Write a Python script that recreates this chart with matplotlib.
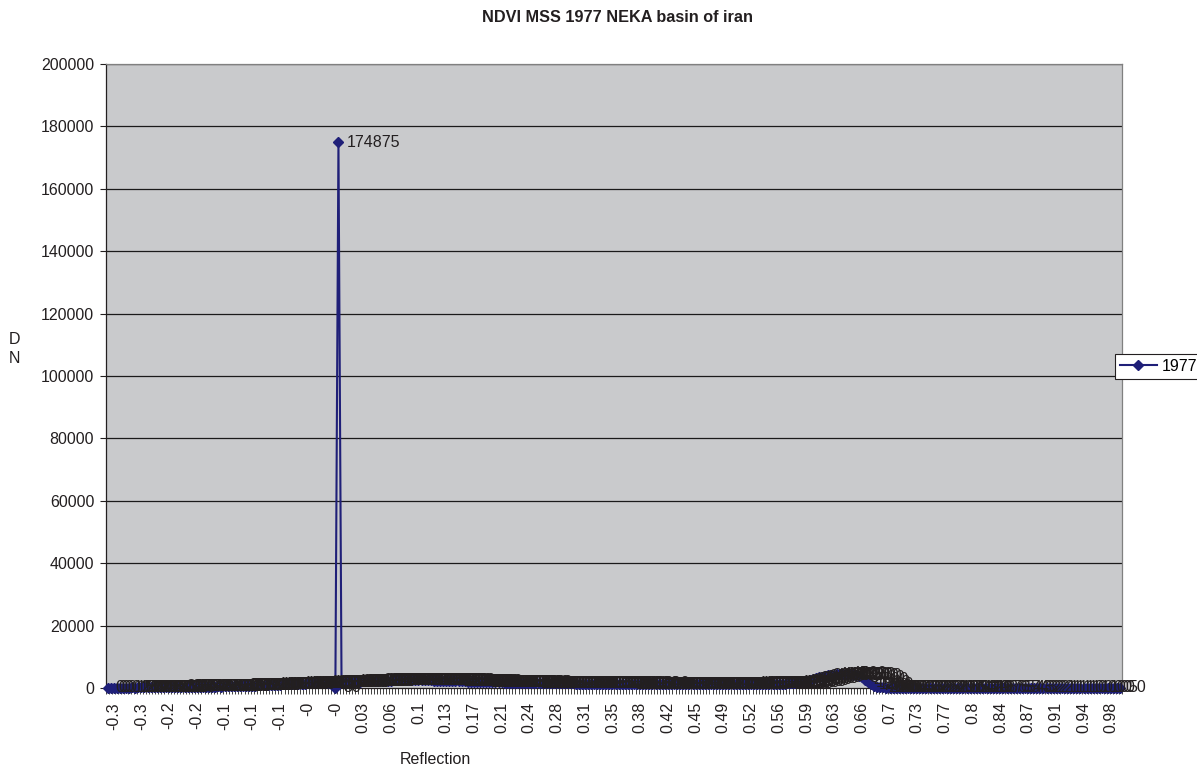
import matplotlib
matplotlib.use('Agg')
import matplotlib.pyplot as plt
from matplotlib.lines import Line2D

plt.rcParams['font.family'] = ['Liberation Sans', 'DejaVu Sans']

title = "NDVI MSS 1977 NEKA basin of iran"
series_name = "1977"
x_title = "Reflection"
y_title = "D\nN"

# DN count per NDVI category
values = [
    0, 0, 0, 0, 0, 0, 120, 150, 180, 160,
    200, 190, 220, 240, 210, 250, 260, 240, 280, 300,
    270, 310, 290, 330, 320, 350, 340, 370, 360, 390,
    410, 380, 420, 450, 430, 470, 500, 480, 530, 560,
    540, 600, 620, 650, 700, 680, 750, 800, 780, 850,
    900, 880, 950, 1000, 1050, 1020, 1100, 1150, 1200, 1180,
    1250, 1300, 1350, 1320, 1400, 1450, 1500, 1480, 1550, 1600,
    1650, 1620, 1700, 1750, 30, 174875, 1800, 1850, 1900, 1950,
    2000, 2050, 2020, 2100, 2150, 2200, 2180, 2250, 2300, 2280,
    2350, 2400, 2380, 2450, 2420, 2500, 2480, 2520, 2550, 2500,
    2530, 2480, 2510, 2450, 2470, 2420, 2400, 2380, 2350, 2320,
    2300, 2280, 2250, 2200, 2180, 2150, 2100, 2080, 2050, 2000,
    1980, 1950, 1920, 1900, 1880, 1850, 1820, 1800, 1780, 1760,
    1750, 1720, 1700, 1690, 1680, 1650, 1640, 1620, 1600, 1590,
    1580, 1560, 1550, 1540, 1520, 1510, 1500, 1490, 1480, 1470,
    1460, 1450, 1440, 1430, 1420, 1410, 1400, 1390, 1380, 1370,
    1360, 1350, 1340, 1330, 1320, 1310, 1300, 1290, 1310, 1280,
    1300, 1270, 1290, 1260, 1280, 1300, 1270, 1250, 1280, 1260,
    1240, 1270, 1250, 1230, 1260, 1240, 1220, 1250, 1230, 1210,
    1240, 1220, 1200, 1230, 1210, 1190, 1220, 1200, 1230, 1210,
    1240, 1220, 1250, 1230, 1260, 1240, 1270, 1250, 1280, 1300,
    1290, 1310, 1300, 1320, 1310, 1330, 1320, 1340, 1360, 1380,
    1420, 1480, 1550, 1650, 1780, 1950, 2150, 2400, 2650, 2900,
    3150, 3400, 3650, 3850, 4050, 4200, 4300, 4400, 4450, 4500,
    4420, 4350, 4250, 4100, 3850, 3400, 2700, 1900, 1200, 700,
    400, 250, 180, 140, 110, 90, 80, 70, 60, 55,
    50, 45, 40, 38, 35, 32, 30, 28, 26, 25,
    24, 22, 21, 20, 19, 18, 17, 16, 15, 14,
    14, 13, 12, 12, 11, 10, 10, 9, 9, 8,
    8, 7, 7, 6, 6, 5, 5, 5, 4, 4,
    4, 3, 3, 3, 2, 2, 2, 2, 2, 1,
    1, 1, 1, 1, 1, 1, 1, 1, 0, 0,
    1, 0, 0, 1, 0, 0, 0, 0, 0, 50,
]

tick_labels = ["-0.3", "-0.3", "-0.2", "-0.2", "-0.1", "-0.1", "-0.1", "-0", "-0",
               "0.03", "0.06", "0.1", "0.13", "0.17", "0.21", "0.24", "0.28",
               "0.31", "0.35", "0.38", "0.42", "0.45", "0.49", "0.52", "0.56",
               "0.59", "0.63", "0.66", "0.7", "0.73", "0.77", "0.8", "0.84",
               "0.87", "0.91", "0.94", "0.98"]
label_start = 2
label_every = 9
y_ticks = [0, 20000, 40000, 60000, 80000, 100000, 120000, 140000, 160000, 180000, 200000]

W, H = 1197, 768
FS = 11.5
line_color = '#1F1F78'

fig = plt.figure(figsize=(W / 100, H / 100), dpi=100)
ax = fig.add_axes([106 / W, 1 - 688 / H, (1122 - 106) / W, (688 - 64) / H])
ax.set_facecolor('#C9CACC')

n = len(values)
xs = list(range(n))
ax.set_xlim(-0.5, n - 0.5)
ax.set_ylim(y_ticks[0], y_ticks[-1])

for yv in y_ticks[1:]:
    ax.axhline(yv, color='#1a1a1a', lw=0.9, zorder=1)

ax.plot(xs, values, color=line_color, lw=1.5, marker='D', ms=5,
        mfc=line_color, mec=line_color, zorder=3, clip_on=False)

for i, v in enumerate(values):
    ax.annotate(str(v), (i, v), xytext=(8, 0), textcoords='offset pixels',
                ha='left', va='center', fontsize=FS, color='#231F20',
                zorder=4, annotation_clip=False)

ax.set_yticks(y_ticks)
ax.set_yticklabels([str(t) for t in y_ticks])
ax.tick_params(axis='y', direction='out', length=4.5, width=0.8,
               labelsize=FS, pad=4, colors='#231F20')

major_pos = [label_start + i * label_every for i in range(len(tick_labels))]
ax.set_xticks(major_pos)
ax.set_xticklabels(tick_labels, rotation=90)
ax.set_xticks([i - 0.5 for i in range(n + 1)], minor=True)
ax.tick_params(axis='x', which='major', length=0, labelsize=FS, pad=10,
               colors='#231F20')
ax.tick_params(axis='x', which='minor', direction='out', length=4,
               width=0.7, color='#404040')

for s in ['left', 'bottom']:
    ax.spines[s].set_color('#231F20')
    ax.spines[s].set_linewidth(0.9)
for s in ['right', 'top']:
    ax.spines[s].set_color('#808080')
    ax.spines[s].set_linewidth(0.9)

fig.text(618 / W, 1 - 18 / H, title, ha='center', va='center',
         fontsize=11.7, fontweight='bold', color='#231F20')
fig.text(435 / W, 1 - 760 / H, x_title, ha='center', va='center',
         fontsize=FS, color='#231F20')
fig.text(14 / W, 1 - 349 / H, y_title, ha='center', va='center',
         fontsize=FS, color='#231F20', linespacing=1.3)

handle = Line2D([], [], color=line_color, lw=1.5, marker='D', ms=5)
leg = fig.legend(handles=[handle], labels=[series_name], loc='upper left',
                 bbox_to_anchor=(1115 / W, 1 - 354 / H), frameon=True,
                 fancybox=False, edgecolor='#231F20', framealpha=1,
                 borderpad=0.3, handlelength=2.3, handletextpad=0.3,
                 fontsize=FS, borderaxespad=0)
leg.get_frame().set_linewidth(0.8)

fig.savefig('out.png', dpi=100)
